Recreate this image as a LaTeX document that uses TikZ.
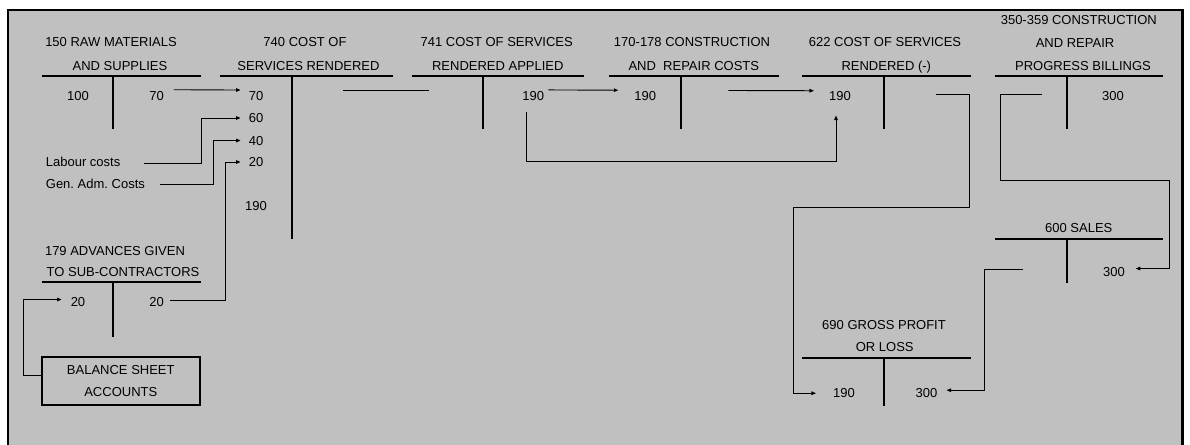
\documentclass[tikz,border=0pt]{standalone}
\usepackage{fontspec}
\setmainfont{Liberation Sans}
\usetikzlibrary{arrows.meta}
\definecolor{panel}{HTML}{C0C0C0}
\frenchspacing
\begin{document}
\begin{tikzpicture}[x=1pt,y=-1pt,
  txt/.style={anchor=base,inner sep=0pt,font=\fontsize{13}{15}\selectfont,text=black},
  lbl/.style={txt,anchor=base west},
  tline/.style={line width=2.2pt,black},
  conn/.style={line width=0.9pt,black},
  arr/.style={conn,-{Triangle[length=4.5pt,width=3.6pt]}},
  boxed/.style={draw,line width=2pt,inner sep=0pt,align=center,
    font=\fontsize{13}{22}\selectfont,minimum width=158pt,minimum height=47.7pt}]
\useasboundingbox (0,0) rectangle (1190,444);
\clip (0,0) rectangle (1190,444);
% page and framed panel
\fill[white] (0,0) rectangle (1190,444);
\fill[panel] (8,10) rectangle (1182.5,460);
\draw[line width=2.4pt] (8,460) |- (1182.5,10) -- (1182.5,460);

% ---- T-account titles
\node[txt] (t150a) at (111,46.7)   {150 RAW MATERIALS};
\node[txt] (t150b) at (120,70.7)   {AND SUPPLIES};
\node[txt] (t740a) at (305,46.7)   {740 COST OF};
\node[txt] (t740b) at (308.5,70.7) {SERVICES RENDERED};
\node[txt] (t741a) at (496.7,46.7) {741 COST OF SERVICES};
\node[txt] (t741b) at (497.8,70.7) {RENDERED APPLIED};
\node[txt] (t170a) at (692,46.7)   {170-178 CONSTRUCTION};
\node[txt] (t170b) at (693.8,70.7) {AND~~REPAIR COSTS};
\node[txt] (t622a) at (885,46.7)   {622 COST OF SERVICES};
\node[txt] (t622b) at (886.3,70.7) {RENDERED (-)};
\node[txt] (t350a) at (1078.8,24.2){350-359 CONSTRUCTION};
\node[txt] (t350b) at (1075,47.2)  {AND REPAIR};
\node[txt] (t350c) at (1083,70.7)  {PROGRESS BILLINGS};
\node[txt] (t179a) at (115,255.2)  {179 ADVANCES GIVEN};
\node[txt] (t179b) at (123,276.7)  {TO SUB-CONTRACTORS};
\node[txt] (t600)  at (1078.8,232.7) {600 SALES};
\node[txt] (t690a) at (884,329.7)  {690 GROSS PROFIT};
\node[txt] (t690b) at (884.7,351.7){OR LOSS};

% ---- T-account rules
\draw[tline] (41.7,75.7) -- (200.7,75.7)  (113.3,75.7) -- (113.3,129.3);
\draw[tline] (220,75.7) -- (393,75.7)     (292,75.7) -- (292,239);
\draw[tline] (412.3,75.7) -- (584,75.7)   (483.3,75.7) -- (483.3,129.3);
\draw[tline] (609.3,75.7) -- (779,75.7)   (681,75.7) -- (681,129.3);
\draw[tline] (802.3,75.7) -- (970.7,75.7) (884,75.7) -- (884,129.3);
\draw[tline] (995,75.7) -- (1163.3,75.7)  (1066.7,75.7) -- (1066.7,129.3);
\draw[tline] (41.7,282.3) -- (200.7,282.3) (113.3,282.3) -- (113.3,336.7);
\draw[tline] (995,239) -- (1163.3,239)    (1066.7,239) -- (1066.7,283.3);
\draw[tline] (802.3,357.7) -- (970.7,357.7) (884,357.7) -- (884,405.7);

% ---- amounts
\node[txt] (n150d) at (78,100.2)    {100};
\node[txt] (n150c) at (156.5,100.2) {70};
\node[txt] (n740a) at (256,100.5)   {70};
\node[txt] (n740b) at (256,122.5)   {60};
\node[txt] (n740c) at (256,145)     {40};
\node[txt] (n740d) at (256,166.5)   {20};
\node[txt] (n740s) at (256,210.5)   {190};
\node[txt] (n741c) at (533.3,100.4) {190};
\node[txt] (n170d) at (645.3,100.7) {190};
\node[txt] (n622d) at (840,100.7)   {190};
\node[txt] (n350c) at (1113,100.7)  {300};
\node[txt] (n179d) at (78,306.7)    {20};
\node[txt] (n179c) at (156.5,306.7) {20};
\node[txt] (n600c) at (1114,276.4)  {300};
\node[txt] (n690d) at (844,397.7)   {190};
\node[txt] (n690c) at (926.5,397.7) {300};

\node[lbl] (lab) at (45.7,166.7) {Labour costs};
\node[lbl] (gen) at (45.7,188.7) {Gen. Adm. Costs};

\node[boxed] (box) at (120.8,381.2) {BALANCE SHEET\\ACCOUNTS};

% free ends of connectors
\coordinate (c740r) at (343.3,90);
\coordinate (c741l) at (429,90);
\coordinate (c170r) at (728.3,90.5);
\coordinate (c622r) at (936,94);
\coordinate (c350l) at (1042.3,94);
\coordinate (c600l) at (1022.7,269.3);

% ---- connectors
\draw[arr] ([xshift=10pt,yshift=6pt]n150c.east) -- ([xshift=-8pt,yshift=6pt]n740a.west);
\draw[arr] ([xshift=23pt,yshift=-1pt]lab.east) -| ([xshift=-47pt]n740b.west) -- ([xshift=-8pt]n740b.west);
\draw[arr] ([xshift=15pt]gen.east) -| ([xshift=-35pt]n740c.west) -- ([xshift=-8pt]n740c.west);
\draw[arr] ([xshift=6pt,yshift=2pt]n179c.east) -| ([xshift=-23pt]n740d.west) -- ([xshift=-8pt]n740d.west);
\draw[conn] (c740r) -- (c741l);
\draw[arr] ([xshift=4pt,yshift=6pt]n741c.east) -- ([xshift=-16pt,yshift=6pt]n170d.west);
\draw[arr] ([xshift=-7pt,yshift=-11pt]n741c.south) |- ([xshift=-4pt,yshift=-60pt]n622d.south) -- ([xshift=-4pt,yshift=-14.5pt]n622d.south);
\draw[arr] (c170r) -- ([xshift=-15pt,yshift=5.5pt]n622d.west);
\draw[arr] (c622r) -| (969.3,207.3) -| ([xshift=-40pt]n690d.west) -- ([xshift=-17pt]n690d.west);
\draw[arr] (c350l) -| (1000.7,180) -| ([xshift=44pt,yshift=3.4pt]n600c.east) -- ([xshift=10.7pt,yshift=3.4pt]n600c.east);
\draw[arr] (c600l) -| ([xshift=47pt,yshift=3pt]n690c.east) -- ([xshift=9pt,yshift=3pt]n690c.east);
\draw[arr] ([yshift=6pt]box.west) -| ([xshift=-47.4pt,yshift=2.7pt]n179d.west) -- ([xshift=-9pt,yshift=2.7pt]n179d.west);
\end{tikzpicture}
\end{document}
